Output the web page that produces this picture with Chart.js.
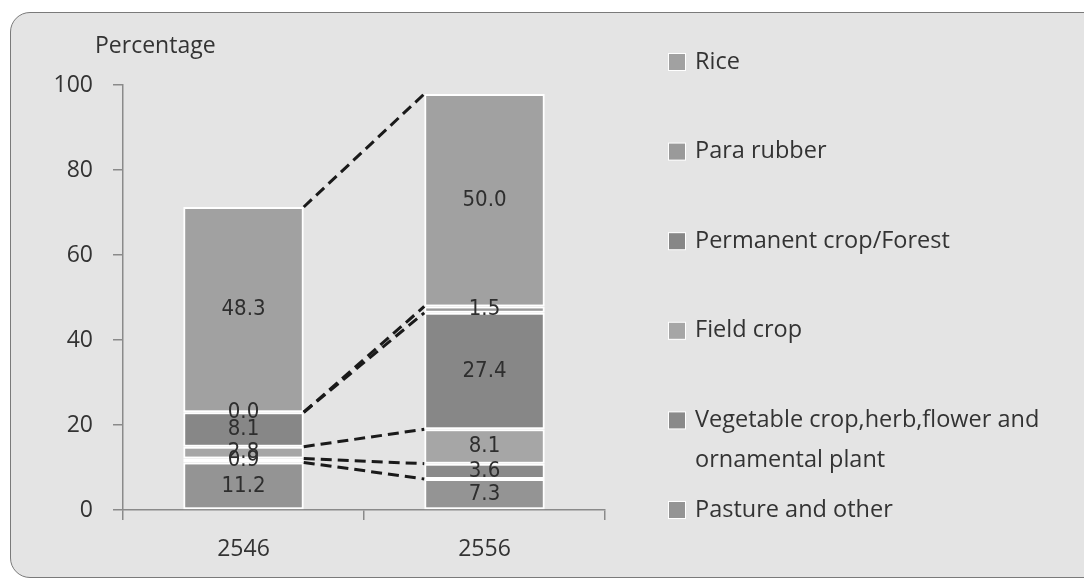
<!DOCTYPE html>
<html>
<head>
<meta charset="utf-8">
<script src="https://cdn.jsdelivr.net/npm/chart.js@4.4.1/dist/chart.umd.min.js"></script>
<style>
  html, body { margin: 0; padding: 0; background: #fff; }
  #wrap { position: relative; width: 1084px; height: 580px; overflow: hidden; }
  #panel {
    position: absolute; left: 10px; top: 12px; width: 1100px; height: 564px;
    border: 1.5px solid #7a7a7a; border-radius: 20px; background: #e4e4e4;
  }
  canvas { position: absolute; left: 0; top: 0; }
</style>
</head>
<body>
<div id="wrap">
  <div id="panel"></div>
  <canvas id="chart" width="1084" height="580"></canvas>
</div>
<script>
// ---------------- DATA ----------------

const years = ["2546", "2556"];

// stacked bottom -> top
const landUse = [
  "Pasture and other",
  "Vegetable crop,herb,flower and ornamental plant",
  "Field crop",
  "Permanent crop/Forest",
  "Para rubber",
  "Rice"
];

const pasture    = [11.2, 7.3];
const vegetable  = [0.9, 3.6];
const fieldCrop  = [2.8, 8.1];
const permanent  = [8.1, 27.4];
const paraRubber = [0.0, 1.5];
const rice       = [48.3, 50.0];

const yTicks = [0, 20, 40, 60, 80, 100];

const shades = ["#949494", "#8a8a8a", "#a6a6a6", "#878787", "#9a9a9a", "#a1a1a1"];

// ---------------- STYLE ----------------

const axisFont = { family: "'Open Sans', 'Noto Sans', sans-serif", size: 23 };
const textColor = "#333";
const lineColor = "#8a8a8a";

// ---------------- OVERLAY (connectors, values, legend, title) ----------------

const overlay = {
  id: "overlay",
  afterDatasetsDraw(chart) {
    const c = chart.ctx;

    // dashed connectors between segment tops
    c.save();
    c.setLineDash([11, 6]);
    c.lineWidth = 3;
    c.strokeStyle = "#1a1a1a";
    chart.data.datasets.forEach((ds, i) => {
      const bars = chart.getDatasetMeta(i).data;
      const a = bars[0], b = bars[1];
      c.beginPath();
      c.moveTo(a.x + a.width / 2, a.y);
      c.lineTo(b.x - b.width / 2, b.y);
      c.stroke();
    });
    c.restore();

    // values in segments
    c.save();
    c.font = "22px 'DejaVu Sans Condensed', 'DejaVu Sans', sans-serif";
    c.fillStyle = "#2e2e2e";
    c.textAlign = "center";
    c.textBaseline = "middle";
    chart.data.datasets.forEach((ds, i) => {
      chart.getDatasetMeta(i).data.forEach((bar, j) => {
        c.fillText(ds.data[j].toFixed(1), bar.x, (bar.y + bar.base) / 2);
      });
    });
    c.restore();
  },
  afterDraw(chart) {
    const c = chart.ctx;
    c.save();

    // axis title
    c.font = "23px 'Open Sans', 'Noto Sans', sans-serif";
    c.fillStyle = textColor;
    c.textBaseline = "middle";
    c.textAlign = "left";
    c.fillText("Percentage", 95, 46);

    // legend, top item = top segment
    c.font = "23.5px 'Open Sans', 'Noto Sans', sans-serif";
    const items = chart.data.datasets.slice().reverse();
    const top = 62, step = (510 - 62) / 5;
    items.forEach((ds, k) => {
      const y = top + k * step;
      c.fillStyle = "#fff";
      c.fillRect(668, y - 9, 18, 18);
      c.fillStyle = ds.backgroundColor;
      c.fillRect(669, y - 8, 16, 16);

      // wrap long labels
      c.fillStyle = textColor;
      const words = ds.label.split(" ");
      const lines = [];
      let line = "";
      words.forEach(w => {
        const t = line ? line + " " + w : w;
        if (c.measureText(t).width > 370 && line) { lines.push(line); line = w; }
        else line = t;
      });
      lines.push(line);
      lines.forEach((l, n) => c.fillText(l, 695, y + n * 40));
    });

    c.restore();
  }
};

// ---------------- CHART ----------------

const series = [pasture, vegetable, fieldCrop, permanent, paraRubber, rice];

const chart = new Chart(document.getElementById("chart").getContext("2d"), {
  type: "bar",
  data: {
    labels: years,
    datasets: series.map((vals, i) => ({
      label: landUse[i],
      data: vals,
      backgroundColor: shades[i],
      borderColor: "#ffffff",
      borderWidth: 2,
      borderSkipped: false,
      categoryPercentage: 1,
      barPercentage: 0.5
    }))
  },
  options: {
    responsive: false,
    animation: false,
    layout: { padding: { top: 85, right: 479, bottom: 0, left: 0 } },
    plugins: { legend: { display: false }, tooltip: { enabled: false } },
    scales: {
      x: {
        stacked: true,
        grid: { drawOnChartArea: false, offset: true, tickLength: 10, color: lineColor, lineWidth: 1.5 },
        border: { color: lineColor, width: 1.5 },
        ticks: { font: axisFont, color: textColor, padding: 16 },
        afterFit(s) { s.height = 70; }
      },
      y: {
        stacked: true,
        min: 0,
        max: 100,
        afterBuildTicks(s) { s.ticks = yTicks.map(v => ({ value: v })); },
        grid: { drawOnChartArea: false, tickLength: 10, color: lineColor, lineWidth: 1.5 },
        border: { color: lineColor, width: 1.5 },
        ticks: { font: axisFont, color: textColor, padding: 20 },
        afterFit(s) { s.width = 123; }
      }
    }
  },
  plugins: [overlay]
});
</script>
</body>
</html>
